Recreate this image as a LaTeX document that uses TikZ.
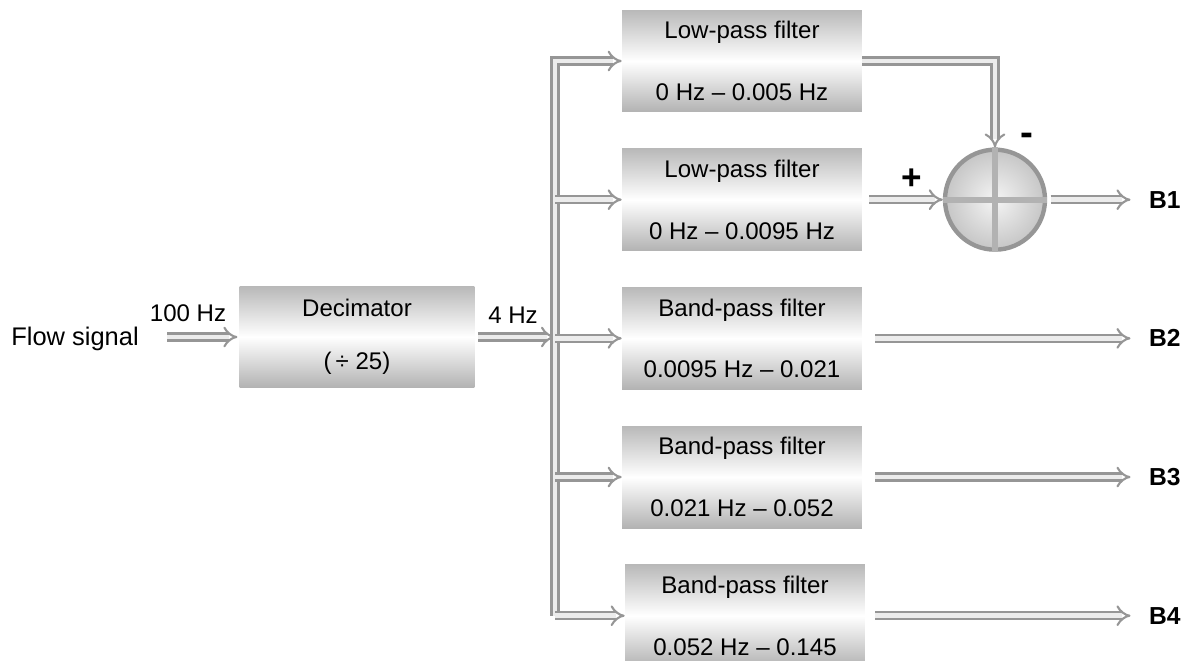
\documentclass[tikz,border=0pt]{standalone}
\usepackage{fontspec}
\setmainfont{Liberation Sans}
\usetikzlibrary{positioning, arrows.meta}
\definecolor{pipecol}{RGB}{150, 150, 150}
\tikzset{
  filt/.style={minimum width=4.8cm, minimum height=2.04cm, align=center,
               top color=gray!55, bottom color=gray!60, middle color=white,
               font=\fontsize{13.7}{16}\selectfont},
  flow/.style={draw=pipecol, double=gray!15, double distance=2.8pt,
               line width=1.2pt, -{Implies}},
  cross/.style={draw=gray!60, line width=3.5pt},
  lbl/.style={font=\fontsize{13.7}{16}\selectfont},
  outl/.style={font=\bfseries\fontsize{14}{16}\selectfont, anchor=west},
}

\begin{document}
\begin{tikzpicture}[x=0.02cm, y=-0.02cm]
  \useasboundingbox (0,0) rectangle (1200,660);
  % --- input side ---
  \node[lbl, font=\fontsize{14.5}{17}\selectfont] (flow) at (75,339) {Flow signal};
  \node[filt, minimum width=4.7cm, minimum height=2.02cm] (dec) at (357,337)
       {Decimator\\[14pt](\,÷ 25)};
  \draw[flow, shorten <=0.45cm, shorten >=1pt] (flow.east |- dec.west) -- (dec.west);
  \node[lbl] (hz100) at (188,313) {100 Hz};

  \coordinate (bus) at (555,337);
  \draw[flow, shorten <=2pt] (dec.east) -- (bus);
  \node[lbl] (hz4) at (513,315) {4 Hz};

  % --- filter bank ---
  \node[filt] (lp1) at (742,61) {Low-pass filter\\[19pt]0 Hz -- 0.005 Hz};
  \node[filt, below=0.72cm of lp1] (lp2) {Low-pass filter\\[19pt]0 Hz -- 0.0095 Hz};
  \node[filt, below=0.72cm of lp2] (bp1) {Band-pass filter\\[19pt]0.0095 Hz -- 0.021};
  \node[filt, below=0.72cm of bp1] (bp2) {Band-pass filter\\[19pt]0.021 Hz -- 0.052};
  \node[filt, below=0.72cm of bp2, xshift=0.06cm] (bp3) {Band-pass filter\\[19pt]0.052 Hz -- 0.145};

  \draw[flow] (bus |- bp3.west) |- (lp1.west);
  \draw[flow] (bus |- bp3.west) -- (bp3.west);
  \foreach \f in {lp2, bp1, bp2}
    \draw[flow] (bus |- \f.west) -- (\f.west);

  % --- difference of the two low-pass outputs ---
  \coordinate (sumx) at (995,0);
  \node[circle, draw=pipecol, line width=2.5pt, minimum size=2.0cm,
        inner color=gray!8, outer color=gray!45] (sum) at (lp2 -| sumx) {};
  \draw[cross] (sum.north) -- (sum.south);
  \draw[cross] (sum.west) -- (sum.east);
  \draw[flow] (lp1.east) -| (sum.north);
  \draw[flow, shorten <=4pt] (lp2.east) -- (sum.west);
  \node[font=\bfseries\fontsize{20}{20}\selectfont] (plus) at (912,179) {+};
  \node[font=\bfseries\fontsize{22}{22}\selectfont] (minus) at (1027,139) {-};

  % --- outputs ---
  \coordinate (outx) at (1143,0);
  \node[outl] (b1) at (sum -| outx) {B1};
  \node[outl] (b2) at (bp1 -| outx) {B2};
  \node[outl] (b3) at (bp2 -| outx) {B3};
  \node[outl] (b4) at (bp3 -| outx) {B4};
  \draw[flow, shorten <=2pt, shorten >=0.25cm] (sum.east) -- (b1.west);
  \draw[flow, shorten <=0.26cm, shorten >=0.25cm] (bp1.east) -- (b2.west);
  \draw[flow, shorten <=0.26cm, shorten >=0.25cm] (bp2.east) -- (b3.west);
  \draw[flow, shorten <=0.2cm, shorten >=0.25cm] (bp3.east) -- (b4.west);
\end{tikzpicture}
\end{document}
